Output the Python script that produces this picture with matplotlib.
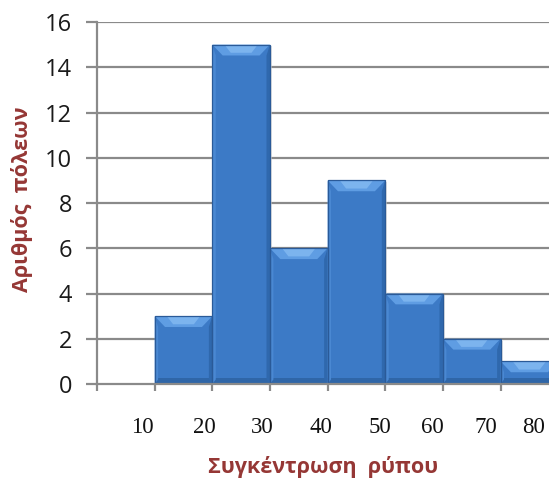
import matplotlib
matplotlib.use("Agg")
import matplotlib.pyplot as plt
from matplotlib.patches import Rectangle, Polygon
from matplotlib.ticker import FixedLocator, NullFormatter

# Histogram data: class edges and frequencies
bin_edges = [10, 20, 30, 40, 50, 60, 70, 80]
counts = [3, 15, 6, 9, 4, 2, 1]
tick_labels = ["10", "20", "30", "40", "50", "60", "70", "80"]
label_pos = [7.9, 18.7, 28.7, 38.9, 49.0, 58.2, 67.5, 75.7]
y_ticks = [0, 2, 4, 6, 8, 10, 12, 14, 16]

x_title = "Συγκέντρωση  ρύπου"
y_title = "Αριθμός  πόλεων"

W, H = 549, 479
fig = plt.figure(figsize=(W / 100, H / 100), dpi=100)
ax = fig.add_axes([97 / W, (H - 384) / H, (W - 97) / W, (384 - 22) / H])
ax.set_xlim(0, 78.4)
ax.set_ylim(0, 16)

# gridlines
for yv in y_ticks[1:]:
    ax.axhline(yv, color="#8a8a8a", lw=1.6, zorder=1)

face = "#3c7ac6"
edge = "#2a5a98"
top_light = "#5f9de3"
top_glow = "#86bcf3"
bev_x = 1.8    # bevel inset (x data units)
bev_y = 0.48   # bevel depth (y data units)

for left, right, c in zip(bin_edges[:-1], bin_edges[1:], counts):
    # soft shadow to the right
    ax.add_patch(Rectangle((left + 0.35, 0), right - left, c - 0.08,
                           facecolor="#cfcfcf", edgecolor="none",
                           alpha=0.6, zorder=2))
    ax.add_patch(Rectangle((left, 0), right - left, c,
                           facecolor=face, edgecolor="none", zorder=3))
    # darker lower band
    ax.add_patch(Rectangle((left, 0), right - left, min(0.25, c),
                           facecolor="#2f66a8", edgecolor="none", zorder=3.5))
    # side bevels
    ax.add_patch(Polygon([(left, 0), (left + 0.6, 0.2), (left + 0.6, c - bev_y),
                          (left, c)], closed=True, facecolor="#4a88d2",
                         edgecolor="none", zorder=4))
    ax.add_patch(Polygon([(right, 0), (right - 0.6, 0.2), (right - 0.6, c - bev_y),
                          (right, c)], closed=True, facecolor="#2f68ad",
                         edgecolor="none", zorder=4))
    # top bevel
    ax.add_patch(Polygon([(left, c), (right, c),
                          (right - bev_x, c - bev_y), (left + bev_x, c - bev_y)],
                         closed=True, facecolor=top_light, edgecolor="none",
                         zorder=4))
    ax.add_patch(Polygon([(left + 2.2, c - 0.03), (right - 2.2, c - 0.03),
                          (right - 3.2, c - bev_y + 0.12), (left + 3.2, c - bev_y + 0.12)],
                         closed=True, facecolor=top_glow, edgecolor="none",
                         alpha=0.75, zorder=4))
    ax.add_patch(Rectangle((left, 0), right - left, c,
                           facecolor="none", edgecolor=edge, lw=0.9, zorder=5))

# spines
for s in ["top", "right"]:
    ax.spines[s].set_visible(False)
for s in ["left", "bottom"]:
    ax.spines[s].set_color("#8a8a8a")
    ax.spines[s].set_linewidth(1.6)
ax.spines["bottom"].set_zorder(6)

# y axis
ax.set_yticks(y_ticks)
ax.set_yticklabels([str(v) for v in y_ticks], fontsize=17, family="Open Sans",
                   color="#1a1a1a")
ax.tick_params(axis="y", length=8, width=1.6, color="#8a8a8a", pad=10)

# x axis: tick marks at class edges, labels placed separately
ax.xaxis.set_major_locator(FixedLocator([0] + bin_edges))
ax.xaxis.set_major_formatter(NullFormatter())
ax.tick_params(axis="x", which="major", length=5, width=1.6, color="#8a8a8a")
ax.xaxis.set_minor_locator(FixedLocator(label_pos))
ax.set_xticklabels(tick_labels, minor=True, fontsize=16.5,
                   family="Liberation Serif", color="#111111")
ax.tick_params(axis="x", which="minor", length=0, pad=24)

fig.text(323 / W, 1 - 467 / H, x_title, ha="center", va="center",
         fontsize=15.5, fontweight="bold", family="Open Sans", color="#953735")
fig.text(22 / W, 1 - 199 / H, y_title, ha="center", va="center", rotation=90,
         fontsize=15.5, fontweight="bold", family="Open Sans", color="#953735")

fig.savefig("out.png", dpi=100)
